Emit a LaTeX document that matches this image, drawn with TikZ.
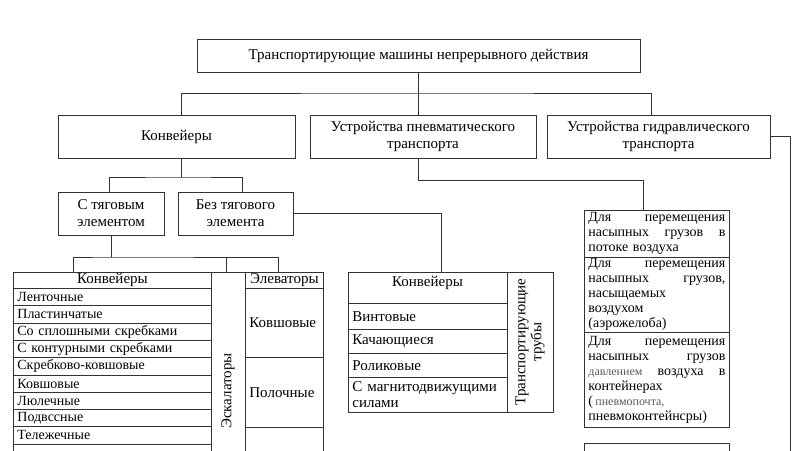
\documentclass[tikz,border=0pt]{standalone}
\usepackage{fontspec}
\setmainfont{Liberation Serif}
\newcommand{\boxfont}{\fontsize{15}{17}\selectfont}
\newcommand{\tabfont}{\fontsize{15}{16}\selectfont}
\newcommand{\rowfont}{\fontsize{14}{15}\selectfont}
\newcommand{\rfont}{\fontsize{14}{15}\selectfont}
\newcommand{\smallgray}[1]{{\color{black!65}\fontsize{12}{15}\selectfont #1}}
\begin{document}
\begin{tikzpicture}[x=1pt,y=-1pt,
  ln/.style={line width=0.8pt, draw=black!80},
  box/.style={draw=black!80, line width=0.8pt, align=center, inner sep=0pt, font=\boxfont},
  cell/.style={draw=black!80, line width=0.8pt, anchor=north west, inner xsep=4pt, inner ysep=0pt, align=left, font=\tabfont},
  cellc/.style={draw=black!80, line width=0.8pt, anchor=north west, inner sep=0pt, align=center, font=\tabfont},
  rbox/.style={draw=black!80, line width=0.8pt, anchor=north west, inner xsep=4pt, inner ysep=0pt, text width=137pt, align=left, font=\rfont},
  txt/.style={inner sep=0pt, font=\tabfont, align=center}]
\useasboundingbox (0,0) rectangle (800,450);
\fill[white] (0,0) rectangle (800,450);
\clip (0,0) rectangle (800,450);

% top level
\node[box, minimum width=443pt, minimum height=33pt] (top) at (418.5,55.5) {Транспортирующие машины непрерывного действия};
\node[box, minimum width=237pt, minimum height=43pt] (konv) at (176.5,136.5) {Конвейеры};
\node[box, minimum width=226pt, minimum height=43pt] (pneu) at (423,136.5) {Устройства пневматического\\транспорта};
\node[box, minimum width=223pt, minimum height=43pt] (hydr) at (658.5,136.5) {Устройства гидравлического\\транспорта};

\coordinate (bus) at (418,93);
\draw[ln] (top.south) -- (top.south |- pneu.north);
\draw[ln] ([xshift=4.5pt]konv.north) |- (bus) -| ([xshift=-7pt]hydr.north);

% second level
\node[box, minimum width=106pt, minimum height=43pt] (s1) at (111,213.5) {С тяговым\\элементом};
\node[box, minimum width=115pt, minimum height=43pt] (s2) at (235.5,213.5) {Без тягового\\элемента};
\coordinate (kb) at (181,177);
\draw[ln] ([xshift=4.5pt]konv.south) -- (kb);
\draw[ln] ([xshift=-2pt]s1.north) |- (kb) -| ([xshift=6.5pt]s2.north);

% left table: conveyors
\node[cellc, minimum width=198pt, minimum height=16pt] (lh) at (13,272) {Конвейеры};
\foreach \t [count=\i from 0] in {Ленточные, Пластинчатые, Со сплошными скребками, С контурными скребками, Скребково-ковшовые, Ковшовые, Люлечные, Подвссные, Тележечные, {}}
  \node[cell, font=\rowfont, text width=190pt, minimum height=17.3pt] (lr\i) at (13,{288+17.3*\i}) {\t};

% escalators column
\node[cellc, minimum width=34pt, minimum height=200pt] (esc) at (211,272) {};
\node[txt, rotate=90] (esct) at (228,391) {Эскалаторы};

% elevators column
\node[cellc, minimum width=78pt, minimum height=16pt] (elh) at (245,272) {Элеваторы};
\node[cell, text width=70pt, minimum height=69pt] (el1) at (245,288) {Ковшовые};
\node[cell, text width=70pt, minimum height=70pt] (el2) at (245,357) {Полочные};
\node[cell, text width=70pt, minimum height=40pt] (el3) at (245,427) {};

\coordinate (sb) at (111,257);
\draw[ln] (s1.south) -- (sb);
\coordinate (d1) at (73,272);
\coordinate (d2) at (226,272);
\coordinate (d3) at (278,272);
\draw[ln] (d1) |- (sb) -| (d3);
\draw[ln] (d2) -- (d2 |- sb);

% middle box
\node[cellc, minimum width=159pt, minimum height=31pt] (mh) at (348,272) {};
\node[txt] (mht) at (427.5,283) {Конвейеры};
\node[cell, text width=151pt, minimum height=26pt] (m1) at (348,303) {Винтовые};
\node[cell, text width=151pt, minimum height=24pt] (m2) at (348,329) {Качающиеся};
\node[cell, text width=151pt, minimum height=24pt] (m3) at (348,353) {Роликовые};
\node[cell, text width=151pt, minimum height=35pt] (m4) at (348,377) {С магнитодвижущими\\силами};
\node[cellc, minimum width=46pt, minimum height=140pt] (mt) at (507,272) {};
\node[txt, rotate=90] (mtt) at (530,342) {Транспортирующие\\трубы};

\coordinate (mtop) at (441,272);
\draw[ln] (s2.east) -| (mtop);

% right column (pneumatic)
\node[rbox, minimum height=47pt] (rb1) at (584,210) {Для\hfill перемещения\\насыпных\hfill грузов\hfill в\\потоке воздуха};
\node[rbox, minimum height=75pt] (rb2) at (584,257) {Для\hfill перемещения\\насыпных\hfill грузов,\\насыщаемых\\воздухом\\(аэрожелоба)};
\node[rbox, minimum height=95pt] (rb3) at (584,332) {Для\hfill перемещения\\насыпных\hfill грузов\\\smallgray{давлением}\hfill воздуха\hfill в\\контейнерах\\(\,\smallgray{пневмопочта,}\\пневмоконтейнсры)};
\node[rbox, minimum height=40pt] (rb4) at (584,443) {};

\coordinate (pb) at (418,180);
\draw[ln] ([xshift=-5pt]pneu.south) |- (pb) -| ([xshift=-13.5pt]rb1.north);

% hydraulic connector
\coordinate (hbot) at (790,460);
\draw[ln] (hydr.east) -| (hbot);
\end{tikzpicture}
\end{document}
